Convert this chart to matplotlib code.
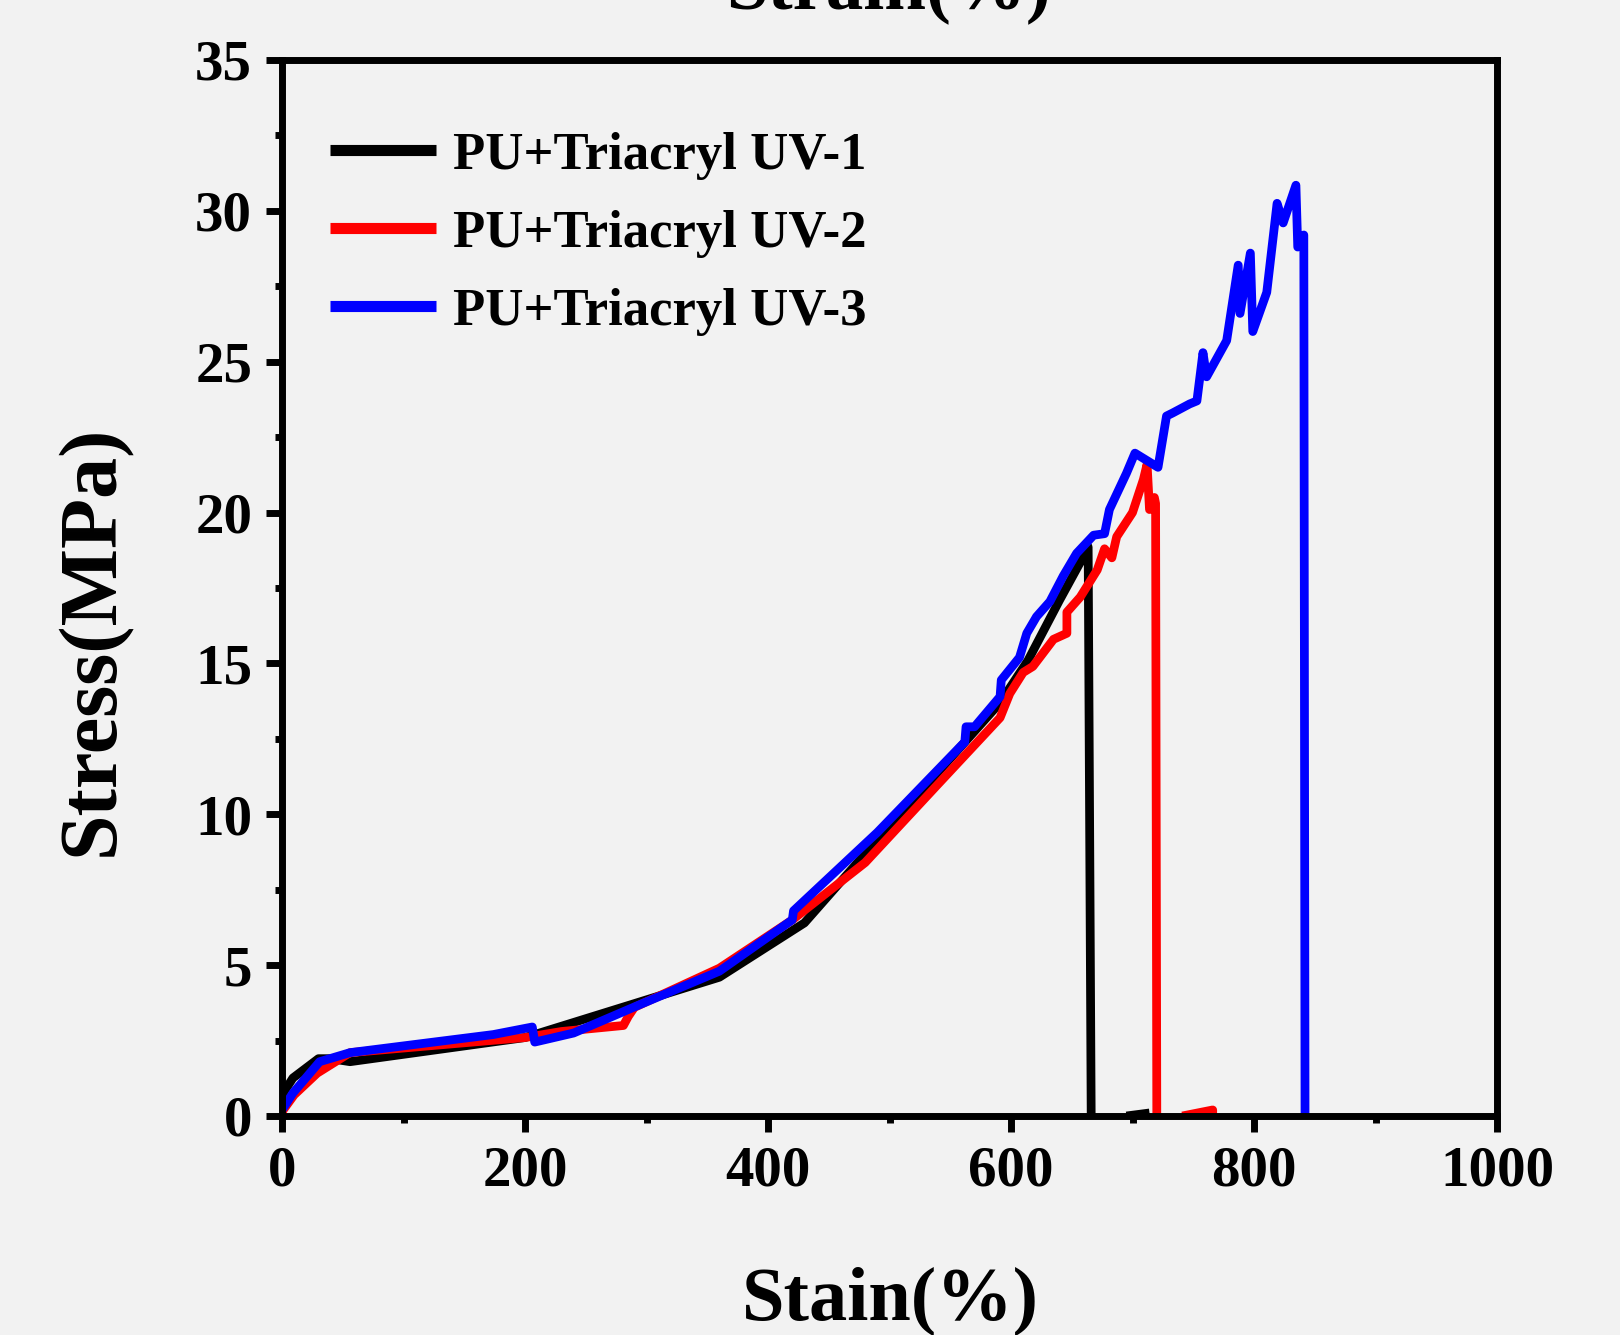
import numpy as np
import matplotlib
matplotlib.use("Agg")
import matplotlib.pyplot as plt
from matplotlib.ticker import MultipleLocator

nan = np.nan

# stress-strain curves
black_x = [0, 1, 9, 30, 40, 56, 200, 360, 430, 500, 560, 591, 614, 640, 659, 663, 663.5, 666,
           nan, 695, 714]
black_y = [0.3, 0.76, 1.26, 1.9, 1.9, 1.8, 2.6, 4.6, 6.4, 9.6, 12.3, 13.7, 15.1, 17.1, 18.5, 18.9, 18.86, 0,
           nan, 0, 0.1]

red_x = [0, 1, 10, 29, 56, 200, 230, 281, 285, 290, 360, 420, 480, 540, 591, 599, 610, 618, 635, 646,
         646, 657, 671, 677, 683, 687, 700, 709, 712, 714, 718, 719, 720, nan, 741, 766, 766]
red_y = [0.1, 0.2, 0.7, 1.42, 2.1, 2.6, 2.8, 3.0, 3.3, 3.6, 4.9, 6.5, 8.4, 11.0, 13.2, 14.0, 14.7, 14.9, 15.8, 16.0,
         16.7, 17.2, 18.1, 18.8, 18.5, 19.2, 20.0, 21.1, 21.6, 20.1, 20.5, 20.3, 0, nan, 0, 0.2, 0]

blue_x = [0, 9, 31, 56, 174, 206, 208, 240, 295, 360, 420, 421, 490, 562, 563, 570, 591, 592, 607, 613,
          621, 632, 643, 654, 668, 677, 681, 695, 702, 721, 728, 733, 747, 753, 758, 761, 777.5, 787,
          788.5, 797, 799, 810.5, 819, 824, 834.5, 836, 841, 842]
blue_y = [0.2, 0.76, 1.8, 2.1, 2.7, 2.95, 2.45, 2.75, 3.7, 4.8, 6.5, 6.8, 9.4, 12.4, 12.9, 12.9, 13.9, 14.45, 15.2, 16.0,
          16.55, 17.05, 17.9, 18.65, 19.25, 19.3, 20.1, 21.3, 21.97, 21.5, 23.2, 23.3, 23.6, 23.7, 25.3, 24.5, 25.7, 28.2,
          26.6, 28.6, 26.0, 27.3, 30.25, 29.6, 30.85, 28.8, 29.2, 0]

labels = ["PU+Triacryl UV-1", "PU+Triacryl UV-2", "PU+Triacryl UV-3"]
colors = ["black", "red", "blue"]

plt.rcParams['font.family'] = ['Liberation Serif', 'DejaVu Serif']
plt.rcParams['font.weight'] = 'bold'

bg = "#f2f2f2"
fig = plt.figure(figsize=(16.2, 13.35), dpi=100, facecolor=bg)
ax = fig.add_axes([282 / 1620, 1 - 1116 / 1335, 1215 / 1620, 1056 / 1335])
ax.set_facecolor(bg)

for xs, ys, c, lab in zip([black_x, red_x, blue_x], [black_y, red_y, blue_y], colors, labels):
    ax.plot(xs, ys, color=c, lw=6.3, label=lab, solid_joinstyle='round', solid_capstyle='butt')

ax.set_xlim(0, 1000)
ax.set_ylim(0, 35)
ax.xaxis.set_major_locator(MultipleLocator(200))
ax.xaxis.set_minor_locator(MultipleLocator(100))
ax.yaxis.set_major_locator(MultipleLocator(5))
ax.yaxis.set_minor_locator(MultipleLocator(2.5))
ax.tick_params(which='major', direction='out', length=11.5, width=5, labelsize=41, pad=10)
ax.tick_params(which='minor', direction='out', length=5, width=5)
ax.tick_params(top=False, right=False, which='both')
for lab in ax.get_xticklabels() + ax.get_yticklabels():
    lab.set_fontweight('bold')
for s in ax.spines.values():
    s.set_linewidth(5)

leg = ax.legend(loc='upper left', bbox_to_anchor=(0.0225, 0.952), frameon=False, fontsize=38,
                handlelength=2.0, handletextpad=0.32, labelspacing=0.57, borderaxespad=0)
for h in leg.get_lines():
    h.set_linewidth(8)

fig.text(131 / 1620, 1 - 640 / 1335, "Stress(MPa)", rotation=90, ha='right', va='center',
         fontsize=59, fontweight='bold')
fig.text(890 / 1620, 1 - 1320 / 1335, "Stain(%)", ha='center', va='baseline',
         fontsize=55, fontweight='bold')
fig.text(888 / 1620, 1 - 8 / 1335, "Strain(%)", ha='center', va='baseline',
         fontsize=54, fontweight='bold')

fig.savefig("out.png", dpi=100, facecolor=bg)
